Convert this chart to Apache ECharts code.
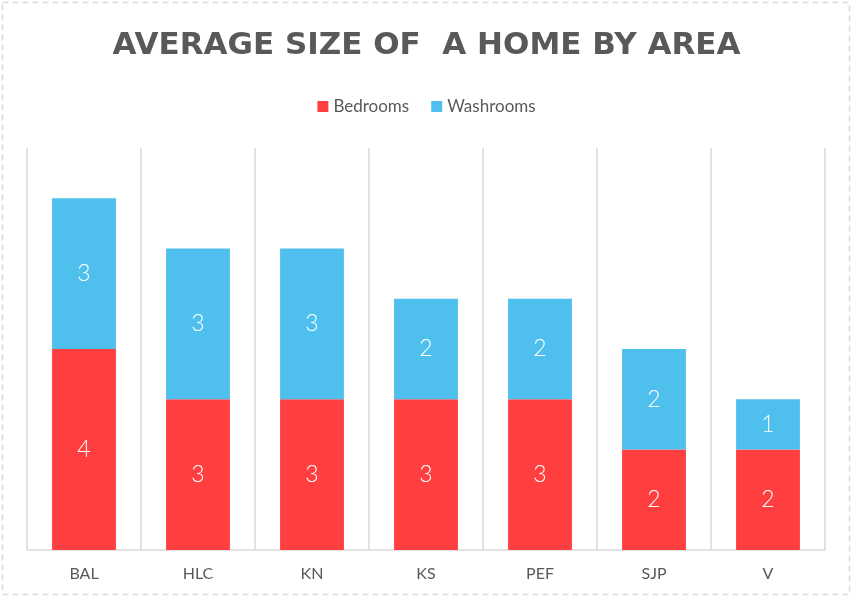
<!DOCTYPE html>
<html><head><meta charset="utf-8">
<script src="https://cdn.jsdelivr.net/npm/echarts@6/dist/echarts.min.js"></script>
<style>html,body{margin:0;padding:0;background:#fff}#c{width:853px;height:598px}</style>
</head><body><div id="c"></div>
<script>
const categories = ['BAL','HLC','KN','KS','PEF','SJP','V'];
const bedrooms = [4,3,3,3,3,2,2];
const washrooms = [3,3,3,2,2,2,1];
const chart = echarts.init(document.getElementById('c'), null, {renderer:'canvas'});
const labelStyle = {show:true, position:'inside', color:'#fff', fontSize:23, fontFamily:'Lato', fontWeight:300};
chart.setOption({
  animation:false,
  backgroundColor:'#fff',
  graphic:[{type:'rect', shape:{x:2.5,y:2.5,width:847,height:592}, style:{fill:'none', stroke:'#d9d9d9', lineWidth:1.5, lineDash:[6,4]}, silent:true}],
  title:{text:'AVERAGE SIZE OF  A HOME BY AREA', left:'center', top:25,
    textStyle:{color:'#595959', fontSize:31, fontWeight:'bold', fontFamily:'DejaVu Sans'}},
  legend:{top:93, left:'center', itemWidth:11, itemHeight:11, itemGap:22, icon:'rect',
    textStyle:{color:'#595959', fontSize:17, fontFamily:'Lato'}},
  grid:{left:27, right:28, top:148, bottom:48},
  xAxis:{type:'category', data:categories,
    axisLine:{lineStyle:{color:'#d9d9d9', width:1.5}},
    axisTick:{show:false},
    splitLine:{show:true, lineStyle:{color:'#d9d9d9', width:1.5}},
    axisLabel:{color:'#595959', fontSize:16, fontFamily:'Lato', margin:16}},
  yAxis:{type:'value', min:0, max:8, interval:1, show:false, splitLine:{show:false}},
  series:[
    {name:'Bedrooms', type:'bar', stack:'a', data:bedrooms, barWidth:'56%', itemStyle:{color:'#ff3f3f'}, label:labelStyle},
    {name:'Washrooms', type:'bar', stack:'a', data:washrooms, barWidth:'56%', itemStyle:{color:'#4fc0ee'}, label:labelStyle}
  ]
});
</script></body></html>
